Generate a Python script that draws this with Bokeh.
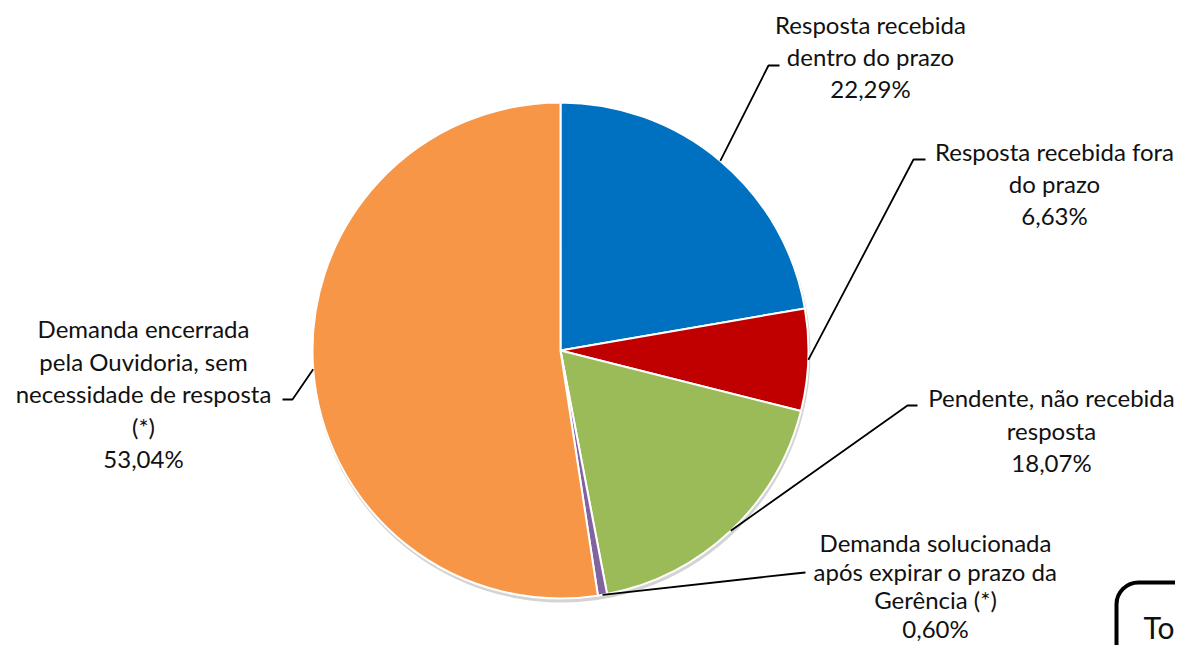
import math
from bokeh.plotting import figure
from bokeh.models import Range1d
from bokeh.core.properties import value
from bokeh.embed import file_html
from bokeh.resources import INLINE

# ---- data ----
categories = [
    "Resposta recebida dentro do prazo",
    "Resposta recebida fora do prazo",
    "Pendente, não recebida resposta",
    "Demanda solucionada após expirar o prazo da Gerência (*)",
    "Demanda encerrada pela Ouvidoria, sem necessidade de resposta (*)",
]
percentages = [22.29, 6.63, 18.07, 0.60, 53.04]
pct_labels = ["22,29%", "6,63%", "18,07%", "0,60%", "53,04%"]
label_lines = [
    ["Resposta recebida", "dentro do prazo"],
    ["Resposta recebida fora", "do prazo"],
    ["Pendente, não recebida", "resposta"],
    ["Demanda solucionada", "após expirar o prazo da", "Gerência (*)"],
    ["Demanda encerrada", "pela Ouvidoria, sem", "necessidade de resposta", "(*)"],
]
colors = ["#0070C0", "#C00000", "#9BBB59", "#8064A2", "#F79646"]

# ---- layout (picture pixel coords; y converted) ----
W, H = 1175, 645
def Y(py):
    return H - py

cx, cy, R = 560, Y(350), 248
label_pos = [(870, 24, 32), (1054, 151, 32), (1051, 397, 32.5), (935, 542, 28.5), (143, 328, 32.5)]
elbows = [((768, 65), (779, 65)), ((913, 159), (925, 159)), ((907, 405), (917, 405)),
          ((795, 573), (805, 572)), ((292, 399), (282, 399))]

p = figure(width=W, height=H, output_backend="svg", toolbar_location=None,
           x_range=Range1d(0, W), y_range=Range1d(0, H), min_border=0)
p.axis.visible = False
p.grid.visible = False
p.outline_line_color = None
p.background_fill_color = "white"

# shadow
p.circle(x=[cx + 1], y=[cy - 3], radius=R + 1, fill_color="#808080", fill_alpha=0.35, line_color=None)

# wedges
start = math.pi / 2
angles = []
for i, pc in enumerate(percentages):
    span = pc * 2 * math.pi / 100
    end = start - span
    if i == len(percentages) - 1:
        end = math.pi / 2 - 2 * math.pi
    angles.append((start, end))
    start = end

for (s, e), c in zip(angles, colors):
    p.wedge(x=[cx], y=[cy], radius=R, start_angle=[e], end_angle=[s],
            fill_color=c, line_color="white", line_width=2)

# leader lines
for i, (s, e) in enumerate(angles):
    mid = (s + e) / 2
    ex, ey = cx + R * math.cos(mid), cy + R * math.sin(mid)
    (ax, ay), (bx, by) = elbows[i]
    p.line(x=[ex, ax, bx], y=[ey, Y(ay), Y(by)], line_color="black", line_width=1.8)

# labels
for i, lines in enumerate(label_lines):
    lx, ly, step = label_pos[i]
    allines = lines + [pct_labels[i]]
    ys = [Y(ly + k * step) for k in range(len(allines))]
    p.text(x=[lx] * len(allines), y=ys, text=allines, text_align="center",
           text_baseline="middle", text_font=value("Lato"), text_font_size="24px",
           text_color="#111111")

# partial box at bottom-right
p.quad(left=[1116], right=[1240], top=[Y(582)], bottom=[Y(700)], fill_color="white",
       line_color="black", line_width=4, border_radius=22)
p.text(x=[1143], y=[Y(626)], text=["To"], text_align="left", text_baseline="middle",
       text_font=value("Lato"), text_font_size="30px", text_color="#111111")

open("out.html", "w").write(file_html(p, INLINE))
